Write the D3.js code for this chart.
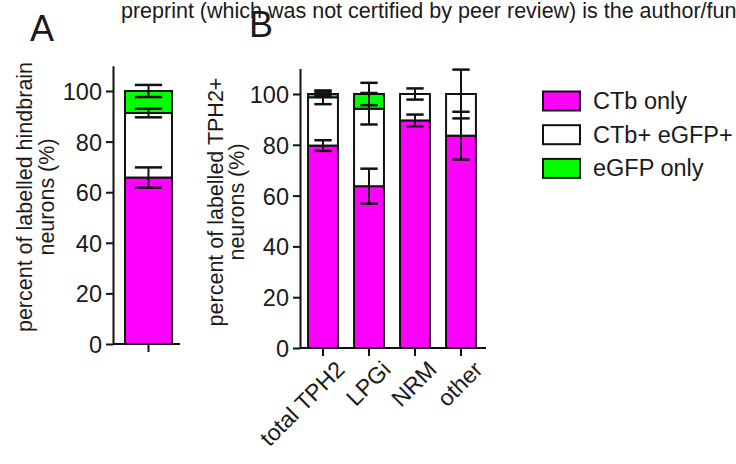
<!DOCTYPE html>
<html><head><meta charset="utf-8">
<script src="https://cdn.jsdelivr.net/npm/d3@7"></script>
<style>
html,body{margin:0;padding:0;background:#fff;overflow:hidden}
text{font-family:"Liberation Sans",Arial,Helvetica,sans-serif;fill:#1a1a1a}
</style></head><body>
<svg id="c" width="736" height="464"></svg>
<script>
// ---- data ----
const seriesNames = ["CTb only", "CTb+ eGFP+", "eGFP only"];
const seriesColors = ["#ff00ff", "#ffffff", "#00ff00"];
const yTicks = [0, 20, 40, 60, 80, 100];

// Panel A
const categoriesA = [""];
const ctbOnlyA = [65.8], ctbOnlyErrA = [4.0];
const bothA = [25.5], bothErrA = [1.7];
const egfpA = [8.7], egfpErrA = [2.4];

// Panel B
const categoriesB = ["total TPH2", "LPGi", "NRM", "other"];
const ctbOnlyB = [79.7, 63.7, 89.6, 83.6], ctbOnlyErrB = [2.1, 6.9, 2.3, 9.4];
const bothB = [19.0, 30.5, 10.4, 16.4], bothErrB = [2.7, 6.2, 2.2, 9.6];
const egfpB = [1.3, 5.8, 0, 0], egfpErrB = [0.9, 4.4, 0, 0];

const svg = d3.select("#c");

// header text (page header of source document, clipped at the right edge as in the original)
svg.append("text").attr("x", 121).attr("y", 18).style("font-size", "21.5px")
  .text("preprint (which was not certified by peer review) is the author/funder");

function panel(opts) {
  const g = svg.append("g");
  const y = d3.scaleLinear().domain([0, 110]).range([opts.y0, opts.y0 - 110 * opts.ppu]);
  const x = d3.scaleBand().domain(opts.cats).range(opts.xr).paddingInner(opts.pi).paddingOuter(opts.po);
  const series = [opts.s1, opts.s2, opts.s3];
  const errs = [opts.e1, opts.e2, opts.e3];
  const stacked = opts.cats.map((c, i) => {
    let acc = 0;
    return series.map((s, k) => { const lo = acc; acc += s[i]; return {k, lo, hi: acc, err: errs[k][i]}; });
  });
  // bars
  opts.cats.forEach((c, i) => {
    stacked[i].forEach(d => {
      if (d.hi - d.lo <= 0) return;
      g.append("rect").attr("x", x(c)).attr("width", x.bandwidth())
        .attr("y", y(d.hi)).attr("height", y(d.lo) - y(d.hi))
        .attr("fill", seriesColors[d.k]).attr("stroke", "#111").attr("stroke-width", 2);
    });
  });
  // error bars
  opts.cats.forEach((c, i) => {
    const cx = x(c) + x.bandwidth() / 2, cw = x.bandwidth() * 0.29;
    stacked[i].forEach(d => {
      if (d.hi - d.lo <= 0) return;
      g.append("line").attr("x1", cx).attr("x2", cx).attr("y1", y(d.hi + d.err)).attr("y2", y(d.hi - d.err))
        .attr("stroke", "#111").attr("stroke-width", 2);
      [d.hi + d.err, d.hi - d.err].forEach(v => {
        g.append("line").attr("x1", cx - cw).attr("x2", cx + cw).attr("y1", y(v)).attr("y2", y(v))
          .attr("stroke", "#111").attr("stroke-width", 2.5);
      });
    });
  });
  // axes
  const ya = g.append("g").attr("transform", `translate(${opts.xr[0]},0)`)
    .call(d3.axisLeft(y).tickValues(yTicks).tickSize(7).tickSizeOuter(0).tickPadding(4));
  ya.selectAll("text").style("font-size", "23.5px").attr("dy", "0.36em");
  const xa = g.append("g").attr("transform", `translate(0,${opts.y0})`)
    .call(d3.axisBottom(x).tickSize(8).tickSizeOuter(0));
  xa.select(".domain").attr("d", `M${opts.xr[0]},0H${opts.xEnd}`);
  xa.selectAll("text").remove();
  g.selectAll(".domain, .tick line").attr("stroke", "#111").attr("stroke-width", 2);
  g.selectAll(".tick text").attr("fill", "#1a1a1a");
  if (opts.labels) {
    opts.cats.forEach(c => {
      g.append("text").attr("transform", `translate(${x(c) + x.bandwidth() / 2 + 23},${opts.y0 + 23}) rotate(-45)`)
        .attr("text-anchor", "end").style("font-size", "23px").text(c);
    });
  }
  // y title
  opts.title.forEach((t, j) => {
    g.append("text").attr("transform", `translate(${opts.tx[j]},${opts.ty}) rotate(-90)`)
      .attr("text-anchor", "middle").style("font-size", "21.5px").text(t);
  });
}

panel({cats: categoriesA, s1: ctbOnlyA, s2: bothA, s3: egfpA, e1: ctbOnlyErrA, e2: bothErrA, e3: egfpErrA,
  y0: 344, ppu: 2.53, xr: [113, 184], xEnd: 180, pi: 0, po: 0.255, labels: false,
  title: ["percent of labelled hindbrain", "neurons (%)"], tx: [32, 54], ty: 197});
panel({cats: categoriesB, s1: ctbOnlyB, s2: bothB, s3: egfpB, e1: ctbOnlyErrB, e2: bothErrB, e3: egfpErrB,
  y0: 348, ppu: 2.54, xr: [300, 484], xEnd: 486, pi: 0.35, po: 0.175, labels: true,
  title: ["percent of labelled TPH2+", "neurons (%)"], tx: [223, 244], ty: 202});

// panel letters
svg.append("text").attr("x", 30).attr("y", 41).style("font-size", "36px").text("A");
svg.append("text").attr("x", 249).attr("y", 37).style("font-size", "36px").text("B");

// legend
const leg = svg.append("g");
seriesNames.forEach((n, k) => {
  const cy = 101 + k * 33.7;
  leg.append("rect").attr("x", 543).attr("y", cy - 9.5).attr("width", 37).attr("height", 19)
    .attr("fill", seriesColors[k]).attr("stroke", "#111").attr("stroke-width", 2);
  leg.append("text").attr("x", 593).attr("y", cy + 8).style("font-size", "23.5px").text(n);
});
</script>
</body></html>
